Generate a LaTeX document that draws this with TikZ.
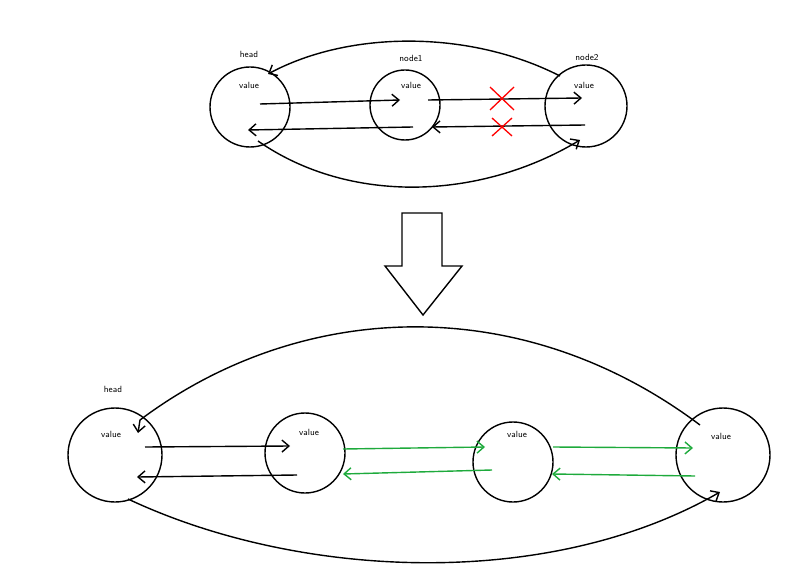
\documentclass[tikz,border=0pt]{standalone}
\usetikzlibrary{arrows.meta}
\begin{document}
\begin{tikzpicture}[x=1pt,y=-1pt,
  nd/.style={circle,draw,line width=1.4pt,inner sep=0pt},
  lbl/.style={font=\sffamily\fontsize{9}{10}\selectfont},
  ar/.style={line width=1.4pt,-{Straight Barb[length=7pt,width=12pt]}},
  gr/.style={ar,draw={rgb,255:red,30;green,170;blue,60}},
  xm/.style={red,line width=1.3pt}]
\useasboundingbox (0,0) rectangle (797,577);
% top
\node[nd,minimum size=80pt] (h) at (250,107) {};
\node[nd,minimum size=70pt] (a) at (405,105) {};
\node[nd,minimum size=82pt] (b) at (586,106) {};
\node[lbl] (hl) at (249,54) {head};
\node[lbl] (al) at (411,58) {node1};
\node[lbl] (bl) at (587,57) {node2};
\node[lbl] (hv) at (249,85) {value};
\node[lbl] (av) at (411,85) {value};
\node[lbl] (bv) at (584,85) {value};
\coordinate (p1) at (260,104); \coordinate (p2) at (400,100);
\coordinate (p3) at (413,127); \coordinate (p4) at (248,130);
\coordinate (p5) at (428,100); \coordinate (p6) at (582,98);
\coordinate (p7) at (585,125); \coordinate (p8) at (432,127);
\draw[ar] (p1) -- (p2); \draw[ar] (p3) -- (p4);
\draw[ar] (p5) -- (p6); \draw[ar] (p7) -- (p8);
\draw[xm] (490,87) -- (514,110) (514,87) -- (490,110);
\draw[xm] (492,118) -- (512,136) (512,118) -- (492,136);
\coordinate (t1) at (560,76); \coordinate (t2) at (268,74);
\draw[ar] (t1) .. controls (470,30) and (350,30) .. (t2);
\coordinate (u1) at (258,141); \coordinate (u2) at (580,140);
\draw[ar] (u1) .. controls (350,205) and (480,200) .. (u2);
% big arrow
\draw[line width=1.4pt] (402,213) -- (442,213) -- (442,266) -- (462,266) -- (423,315) -- (385,266) -- (402,266) -- cycle;
% bottom
\node[nd,minimum size=94pt] (c) at (115,455) {};
\node[nd,minimum size=80pt] (d) at (305,453) {};
\node[nd,minimum size=80pt] (e) at (513,462) {};
\node[nd,minimum size=94pt] (f) at (723,455) {};
\node[lbl] (cl) at (113,389) {head};
\node[lbl] (cv) at (111,434) {value};
\node[lbl] (dv) at (309,432) {value};
\node[lbl] (ev) at (517,434) {value};
\node[lbl] (fv) at (721,436) {value};
\coordinate (q1) at (145,447); \coordinate (q2) at (290,446);
\coordinate (q3) at (297,475); \coordinate (q4) at (137,477);
\draw[ar] (q1) -- (q2); \draw[ar] (q3) -- (q4);
\coordinate (g1) at (343,449); \coordinate (g2) at (485,447);
\coordinate (g3) at (492,470); \coordinate (g4) at (343,474);
\coordinate (g5) at (553,447); \coordinate (g6) at (693,448);
\coordinate (g7) at (695,476); \coordinate (g8) at (552,474);
\draw[gr] (g1) -- (g2); \draw[gr] (g3) -- (g4);
\draw[gr] (g5) -- (g6); \draw[gr] (g7) -- (g8);
\coordinate (r1) at (700,425); \coordinate (r2) at (138,433);
\draw[ar] (r1) .. controls (520,290) and (300,300) .. (140,420) -- (r2);
\coordinate (s1) at (128,499); \coordinate (s2) at (720,492);
\draw[ar] (s1) .. controls (300,580) and (550,590) .. (s2);
\end{tikzpicture}
\end{document}
